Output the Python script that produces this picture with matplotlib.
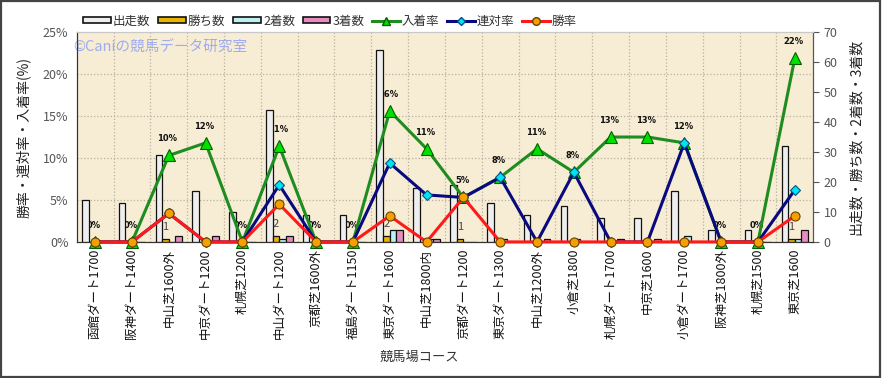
import numpy as np
import matplotlib
matplotlib.use("Agg")
import matplotlib.pyplot as plt
from matplotlib.patches import Patch, Rectangle
from matplotlib.lines import Line2D

plt.rcParams["font.family"] = ["Noto Sans CJK JP", "DejaVu Sans"]

courses = [
    "函館ダート1700", "阪神ダート1400", "中山芝1600外", "中京ダート1200",
    "札幌芝1200", "中山ダート1200", "京都芝1600外", "福島ダート1150",
    "東京ダート1600", "中山芝1800内", "京都ダート1200", "東京ダート1300",
    "中山芝1200外", "小倉芝1800", "札幌ダート1700", "中京芝1600",
    "小倉ダート1700", "阪神芝1800外", "札幌芝1500", "東京芝1600",
]
starts = [14, 13, 29, 17, 10, 44, 9, 9, 64, 18, 19, 13, 9, 12, 8, 8, 17, 4, 4, 32]
wins = [0, 0, 1, 0, 0, 2, 0, 0, 2, 0, 1, 0, 0, 0, 0, 0, 0, 0, 0, 1]
seconds = [0, 0, 0, 0, 0, 1, 0, 0, 4, 1, 0, 1, 0, 1, 0, 0, 2, 0, 0, 1]
thirds = [0, 0, 2, 2, 0, 2, 0, 0, 4, 1, 0, 0, 1, 0, 1, 1, 0, 0, 0, 4]

win_rate = [0, 0, 3.4, 0, 0, 4.5, 0, 0, 3.1, 0, 5.3, 0, 0, 0, 0, 0, 0, 0, 0, 3.1]
rentai_rate = [0, 0, 3.4, 0, 0, 6.8, 0, 0, 9.4, 5.6, 5.3, 7.7, 0, 8.3, 0, 0, 11.8, 0, 0, 6.2]
place_rate = [0, 0, 10.3, 11.8, 0, 11.4, 0, 0, 15.6, 11.1, 5.3, 7.7, 11.1, 8.3,
              12.5, 12.5, 11.8, 0, 0, 21.9]

x = np.arange(len(courses))
w = 0.18

fig = plt.figure(figsize=(8.82, 3.78), dpi=100)
fig.patch.set_facecolor("white")
fig.patches.append(Rectangle((0.001, 0.002), 0.997, 0.996, transform=fig.transFigure,
                             fill=False, edgecolor="#444444", lw=1.6))

ax = fig.add_axes([0.087, 0.360, 0.835, 0.555])
ax.set_facecolor("#f7ecd4")
ax2 = ax.twinx()

# counts (bars) on the host axis, right side
bar_specs = [
    (starts, "#eeeeee", "出走数"),
    (wins, "#e8b400", "勝ち数"),
    (seconds, "#bdf0f0", "2着数"),
    (thirds, "#e68cc0", "3着数"),
]
for k, (vals, col, lab) in enumerate(bar_specs):
    ax.bar(x + (k - 1.5) * w, vals, width=w, color=col, edgecolor="#111111",
           linewidth=0.9, zorder=3, label=lab)

ax.set_ylim(0, 70)
ax.set_yticks(np.arange(0, 71, 10))
ax.yaxis.tick_right()
ax.yaxis.set_label_position("right")
ax.set_ylabel("出走数・勝ち数・2着数・3着数", fontsize=10, color="#222222",
              rotation=90, labelpad=8)
ax.tick_params(axis="y", colors="#555555", labelsize=9, length=4, direction="out")
ax.tick_params(axis="y", labelcolor="#555555")

# grid: horizontal lines follow the percent ticks, vertical between courses
ax.set_yticks(np.arange(0, 26, 5) * 70 / 25, minor=True)
ax.tick_params(axis="y", which="minor", length=0)
ax.set_xticks(x + 0.5, minor=True)
ax.tick_params(axis="x", which="minor", length=0)
ax.grid(which="minor", color="#b8b0a0", linestyle=":", linewidth=0.9, zorder=0)
ax.set_axisbelow(True)

ax.set_xlim(-0.5, len(courses) - 0.5)
ax.set_xticks(x)
ax.set_xticklabels(courses, rotation=90, fontsize=9, color="#111111")
ax.tick_params(axis="x", which="major", length=0, pad=5)

# win count labels
for i, v in enumerate(wins):
    if v > 0:
        ax.annotate(str(v), (x[i] - 0.5 * w, v), xytext=(0, 8.5), textcoords="offset points",
                    ha="center", va="center", fontsize=8, color="#444444", zorder=4)

# place-rate labels (drawn under the bars)
for i, v in enumerate(place_rate):
    ax.annotate(f"{int(v + 0.5)}%", (x[i], v), xycoords=ax2.transData,
                xytext=(-1, 12), textcoords="offset points", ha="center", va="center",
                fontsize=6, fontweight="bold", family="DejaVu Sans", color="#111111",
                zorder=2)

# rates (lines) on the twin axis, left side
ax2.plot(x, place_rate, color="#1e8c1e", lw=2.2, marker="^", ms=8,
         mfc="#00e000", mec="#006000", mew=0.8, clip_on=False, zorder=3, label="入着率")
ax2.plot(x, rentai_rate, color="#0a0a80", lw=2.2, marker="D", ms=5.5,
         mfc="#00e5f0", mec="#00508c", mew=0.8, clip_on=False, zorder=4, label="連対率")
ax2.plot(x, win_rate, color="#ff1a1a", lw=2.2, marker="o", ms=6.5,
         mfc="#f5a000", mec="#6a4000", mew=0.8, clip_on=False, zorder=5, label="勝率")

ax2.set_ylim(0, 25)
ax2.set_yticks(np.arange(0, 26, 5))
ax2.set_yticklabels([f"{t}%" for t in range(0, 26, 5)])
ax2.yaxis.tick_left()
ax2.yaxis.set_label_position("left")
ax2.set_ylabel("勝率・連対率・入着率(%)", fontsize=10, color="#222222", labelpad=9)
ax2.tick_params(axis="y", length=0, labelsize=9, labelcolor="#555555", pad=6)

for a in (ax, ax2):
    a.spines["top"].set_color("#c8c8c8")
    a.spines["left"].set_color("#333333")
    a.spines["bottom"].set_color("#333333")
    a.spines["right"].set_color("#555555")

ax.text(-0.005, 0.925, "©Caniの競馬データ研究室", transform=ax.transAxes,
        fontsize=10.5, color="#9eacf0", ha="left", va="center", zorder=1)

fig.text(419 / 882, 1 - 357 / 378, "競馬場コース", fontsize=9.5, color="#333333",
         ha="center", va="center")

handles = [Patch(facecolor=c, edgecolor="#111111", linewidth=1.2) for _, c, _ in bar_specs]
labels = [lab for _, _, lab in bar_specs]
handles += [
    Line2D([], [], color="#1e8c1e", lw=2.2, marker="^", ms=6, mfc="#00e000", mec="#006000"),
    Line2D([], [], color="#0a0a80", lw=2.2, marker="D", ms=4.5, mfc="#00e5f0", mec="#00508c"),
    Line2D([], [], color="#ff1a1a", lw=2.2, marker="o", ms=5.5, mfc="#f5a000", mec="#6a4000"),
]
labels += ["入着率", "連対率", "勝率"]
fig.legend(handles, labels, loc="center left", bbox_to_anchor=(83 / 882, 1 - 21 / 378),
           ncol=7, frameon=False, fontsize=9, handlelength=2.2, handleheight=0.45,
           handletextpad=0.2, columnspacing=0.6, borderpad=0, borderaxespad=0,
           labelcolor="#333333")

fig.savefig("out.png", dpi=100)
